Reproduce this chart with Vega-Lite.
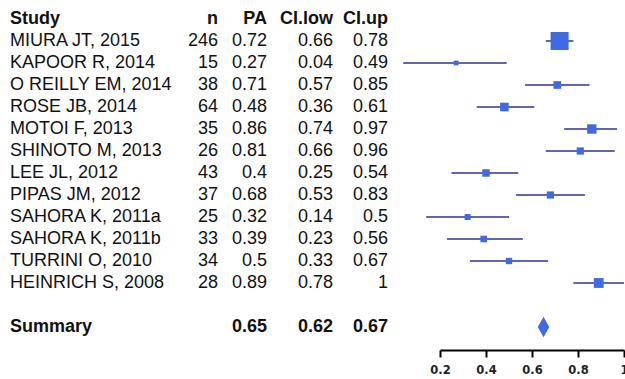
{
  "$schema": "https://vega.github.io/schema/vega-lite/v6.json",
  "padding": {"left": 10, "top": 0, "right": 0, "bottom": 0},
  "bounds": "full",
  "spacing": 14,
  "config": {"view": {"stroke": null}, "text": {"font": "Liberation Sans", "fontSize": 18, "color": "#111111", "baseline": "middle"}},
  "datasets": {
    "head": [{"Study": "Study", "n": "n", "PA": "PA", "lo": "CI.low", "up": "CI.up"}],
    "studies": [
      {"Study": "MIURA JT, 2015", "n": 246, "PA": 0.72, "lo": 0.66, "up": 0.78, "w": 34.5},
      {"Study": "KAPOOR R, 2014", "n": 15, "PA": 0.27, "lo": 0.04, "up": 0.49, "w": 2.5},
      {"Study": "O REILLY EM, 2014", "n": 38, "PA": 0.71, "lo": 0.57, "up": 0.85, "w": 6.3},
      {"Study": "ROSE JB, 2014", "n": 64, "PA": 0.48, "lo": 0.36, "up": 0.61, "w": 7.9},
      {"Study": "MOTOI F, 2013", "n": 35, "PA": 0.86, "lo": 0.74, "up": 0.97, "w": 9.4},
      {"Study": "SHINOTO M, 2013", "n": 26, "PA": 0.81, "lo": 0.66, "up": 0.96, "w": 5.5},
      {"Study": "LEE JL, 2012", "n": 43, "PA": 0.4, "lo": 0.25, "up": 0.54, "w": 5.9},
      {"Study": "PIPAS JM, 2012", "n": 37, "PA": 0.68, "lo": 0.53, "up": 0.83, "w": 5.5},
      {"Study": "SAHORA K, 2011a", "n": 25, "PA": 0.32, "lo": 0.14, "up": 0.5, "w": 3.8},
      {"Study": "SAHORA K, 2011b", "n": 33, "PA": 0.39, "lo": 0.23, "up": 0.56, "w": 4.6},
      {"Study": "TURRINI O, 2010", "n": 34, "PA": 0.5, "lo": 0.33, "up": 0.67, "w": 4.3},
      {"Study": "HEINRICH S, 2008", "n": 28, "PA": 0.89, "lo": 0.78, "up": 1, "w": 10.3}
    ],
    "summary": [{"Study": "Summary", "PA": 0.65, "lo": 0.62, "up": 0.67}]
  },
  "hconcat": [
    {
      "bounds": "full",
      "spacing": 0,
      "hconcat": [
        {
          "width": 168, "height": 346,
          "encoding": {
            "y": {"field": "Study", "type": "nominal", "axis": null, "scale": {"type": "point", "padding": 0.8636, "domain": ["Study", "MIURA JT, 2015", "KAPOOR R, 2014", "O REILLY EM, 2014", "ROSE JB, 2014", "MOTOI F, 2013", "SHINOTO M, 2013", "LEE JL, 2012", "PIPAS JM, 2012", "SAHORA K, 2011a", "SAHORA K, 2011b", "TURRINI O, 2010", "HEINRICH S, 2008", " ", "Summary"]}},
            "x": {"datum": 0, "type": "quantitative", "axis": null, "scale": {"domain": [0, 1]}},
            "text": {"field": "Study", "type": "nominal"}
          },
          "layer": [
            {"data": {"name": "head"}, "mark": {"type": "text", "align": "left", "fontWeight": "bold"}},
            {"data": {"name": "studies"}, "mark": {"type": "text", "align": "left"}},
            {"data": {"name": "summary"}, "mark": {"type": "text", "align": "left", "fontWeight": "bold"}}
          ]
        },
        {
          "width": 40, "height": 346,
          "encoding": {
            "y": {"field": "Study", "type": "nominal", "axis": null, "scale": {"type": "point", "padding": 0.8636, "domain": ["Study", "MIURA JT, 2015", "KAPOOR R, 2014", "O REILLY EM, 2014", "ROSE JB, 2014", "MOTOI F, 2013", "SHINOTO M, 2013", "LEE JL, 2012", "PIPAS JM, 2012", "SAHORA K, 2011a", "SAHORA K, 2011b", "TURRINI O, 2010", "HEINRICH S, 2008", " ", "Summary"]}},
            "x": {"datum": 1, "type": "quantitative", "axis": null, "scale": {"domain": [0, 1]}},
            "text": {"field": "n", "type": "nominal"}
          },
          "layer": [
            {"data": {"name": "head"}, "mark": {"type": "text", "align": "right", "fontWeight": "bold"}},
            {"data": {"name": "studies"}, "mark": {"type": "text", "align": "right"}}
          ]
        },
        {
          "width": 49, "height": 346,
          "encoding": {
            "y": {"field": "Study", "type": "nominal", "axis": null, "scale": {"type": "point", "padding": 0.8636, "domain": ["Study", "MIURA JT, 2015", "KAPOOR R, 2014", "O REILLY EM, 2014", "ROSE JB, 2014", "MOTOI F, 2013", "SHINOTO M, 2013", "LEE JL, 2012", "PIPAS JM, 2012", "SAHORA K, 2011a", "SAHORA K, 2011b", "TURRINI O, 2010", "HEINRICH S, 2008", " ", "Summary"]}},
            "x": {"datum": 1, "type": "quantitative", "axis": null, "scale": {"domain": [0, 1]}},
            "text": {"field": "PA", "type": "nominal"}
          },
          "layer": [
            {"data": {"name": "head"}, "mark": {"type": "text", "align": "right", "fontWeight": "bold"}},
            {"data": {"name": "studies"}, "mark": {"type": "text", "align": "right"}},
            {"data": {"name": "summary"}, "mark": {"type": "text", "align": "right", "fontWeight": "bold"}}
          ]
        },
        {
          "width": 66, "height": 346,
          "encoding": {
            "y": {"field": "Study", "type": "nominal", "axis": null, "scale": {"type": "point", "padding": 0.8636, "domain": ["Study", "MIURA JT, 2015", "KAPOOR R, 2014", "O REILLY EM, 2014", "ROSE JB, 2014", "MOTOI F, 2013", "SHINOTO M, 2013", "LEE JL, 2012", "PIPAS JM, 2012", "SAHORA K, 2011a", "SAHORA K, 2011b", "TURRINI O, 2010", "HEINRICH S, 2008", " ", "Summary"]}},
            "x": {"datum": 1, "type": "quantitative", "axis": null, "scale": {"domain": [0, 1]}},
            "text": {"field": "lo", "type": "nominal"}
          },
          "layer": [
            {"data": {"name": "head"}, "mark": {"type": "text", "align": "right", "fontWeight": "bold"}},
            {"data": {"name": "studies"}, "mark": {"type": "text", "align": "right"}},
            {"data": {"name": "summary"}, "mark": {"type": "text", "align": "right", "fontWeight": "bold"}}
          ]
        },
        {
          "width": 55, "height": 346,
          "encoding": {
            "y": {"field": "Study", "type": "nominal", "axis": null, "scale": {"type": "point", "padding": 0.8636, "domain": ["Study", "MIURA JT, 2015", "KAPOOR R, 2014", "O REILLY EM, 2014", "ROSE JB, 2014", "MOTOI F, 2013", "SHINOTO M, 2013", "LEE JL, 2012", "PIPAS JM, 2012", "SAHORA K, 2011a", "SAHORA K, 2011b", "TURRINI O, 2010", "HEINRICH S, 2008", " ", "Summary"]}},
            "x": {"datum": 1, "type": "quantitative", "axis": null, "scale": {"domain": [0, 1]}},
            "text": {"field": "up", "type": "nominal"}
          },
          "layer": [
            {"data": {"name": "head"}, "mark": {"type": "text", "align": "right", "fontWeight": "bold"}},
            {"data": {"name": "studies"}, "mark": {"type": "text", "align": "right"}},
            {"data": {"name": "summary"}, "mark": {"type": "text", "align": "right", "fontWeight": "bold"}}
          ]
        }
      ]
    },
    {
      "width": 184, "height": 346,
      "encoding": {
        "y": {"field": "Study", "type": "nominal", "axis": null, "scale": {"type": "point", "padding": 0.8636, "domain": ["Study", "MIURA JT, 2015", "KAPOOR R, 2014", "O REILLY EM, 2014", "ROSE JB, 2014", "MOTOI F, 2013", "SHINOTO M, 2013", "LEE JL, 2012", "PIPAS JM, 2012", "SAHORA K, 2011a", "SAHORA K, 2011b", "TURRINI O, 2010", "HEINRICH S, 2008", " ", "Summary"]}}
      },
      "layer": [
        {
          "data": {"name": "studies"},
          "mark": {"type": "rule", "color": "#6266ad", "strokeWidth": 2, "clip": false},
          "encoding": {
            "x": {"field": "lo", "type": "quantitative", "title": null,
              "scale": {"domain": [0.2, 1], "nice": false, "zero": false},
              "axis": {"values": [0.2, 0.4, 0.6, 0.8, 1], "format": "~g", "domainColor": "#000000", "domainWidth": 2, "tickColor": "#000000", "tickWidth": 2, "tickSize": 7, "offset": 4, "grid": false, "labelFont": "DejaVu Sans", "labelFontSize": 11.5, "labelFontWeight": "bold", "labelColor": "#222222", "labelPadding": 7, "labelFlush": false, "labelOverlap": false, "labelBound": false}},
            "x2": {"field": "up"}
          }
        },
        {
          "data": {"name": "studies"},
          "mark": {"type": "point", "shape": "square", "filled": true, "color": "#4169e1", "opacity": 1, "clip": false},
          "encoding": {
            "x": {"field": "PA", "type": "quantitative"},
            "size": {"field": "w", "type": "quantitative", "legend": null, "scale": {"domain": [0, 34.5], "range": [0, 324], "zero": true}}
          }
        },
        {
          "data": {"name": "summary"},
          "mark": {"type": "point", "shape": "M-1,0L0,-1.8L1,0L0,1.8Z", "filled": true, "color": "#4169e1", "opacity": 1, "size": 132},
          "encoding": {
            "x": {"field": "PA", "type": "quantitative"}
          }
        }
      ]
    }
  ]
}
